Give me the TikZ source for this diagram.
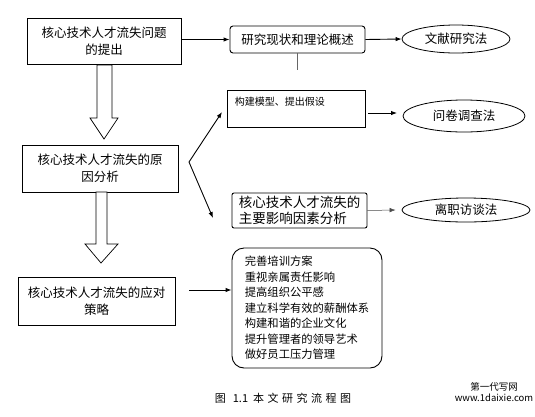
\documentclass[tikz,border=0pt]{standalone}
\usepackage{fontspec}
\setmainfont{Noto Sans CJK SC}
\usetikzlibrary{arrows.meta,shapes.geometric}
\begin{document}
\begin{tikzpicture}[x=1pt,y=-1pt,
  mainbox/.style={draw,line width=0.9pt,inner sep=2pt,align=center,font=\fontsize{12.5}{17}\selectfont},
  rbox/.style={draw,line width=0.9pt,rounded corners=3pt,inner sep=2pt,font=\fontsize{12.5}{14}\selectfont},
  ell/.style={draw,ellipse,line width=0.8pt,inner sep=0pt,font=\fontsize{12.5}{14}\selectfont},
  arr/.style={line width=0.9pt,-{Latex[length=6pt,width=4.5pt]}},
  thinarr/.style={line width=0.5pt,draw=black!70,-{Latex[length=6pt,width=4.5pt]}},
  hollow/.style={draw,line width=0.7pt,fill=white}]
\useasboundingbox (0,0) rectangle (535,416);
% main boxes
\node[mainbox,minimum width=154pt,minimum height=46pt] (b1) at (104,41) {核心技术人才流失问题\\的提出};
\node[mainbox,minimum width=156pt,minimum height=47pt] (b2) at (100,168.5) {核心技术人才流失的原\\因分析};
\node[mainbox,minimum width=157pt,minimum height=48pt] (b3) at (96.5,301) {核心技术人才流失的应对\\策略};
% hollow arrows
\draw[hollow] (97,65) -- (112,65) -- (112,118) -- (118,118) -- (104,139) -- (90,118) -- (97,118) -- cycle;
\draw[hollow] (96,192) -- (107,192) -- (107,244) -- (118,244) -- (101,263) -- (85,244) -- (96,244) -- cycle;
% right boxes
\node[rbox,minimum width=135pt,minimum height=27pt] (r1) at (297.5,39.5) {研究现状和理论概述};
\node[draw,line width=0.9pt,minimum width=138pt,minimum height=37pt,
  label={[anchor=north west,inner sep=0pt,font=\fontsize{10}{12}\selectfont,xshift=8pt,yshift=-7pt]north west:构建模型、提出假设}] (r2) at (296,108.5) {};
\node[draw,line width=0.9pt,rounded corners=2pt,minimum width=135pt,minimum height=35pt,inner sep=1pt,align=left,
  font=\fontsize{13.5}{16}\selectfont] (r3) at (299.5,210.5) {核心技术人才流失的\\主要影响因素分析};
\node[draw,line width=0.9pt,rounded corners=12pt,minimum width=150pt,minimum height=120pt,align=left,
  font=\fontsize{11.3}{15.5}\selectfont,inner sep=0pt] (r4) at (307,308) {完善培训方案\\重视亲属责任影响\\提高组织公平感\\建立科学有效的薪酬体系\\构建和谐的企业文化\\提升管理者的领导艺术\\做好员工压力管理};
% ellipses
\node[ell,minimum width=108pt,minimum height=28pt] (e1) at (456,39) {文献研究法};
\node[ell,minimum width=122pt,minimum height=32pt] (e2) at (464,116) {问卷调查法};
\node[ell,minimum width=128pt,minimum height=24pt] (e3) at (466,210) {离职访谈法};
% connectors
\draw[arr] (b1.east |- r1.west) -- (r1.west);
\draw[arr] (r1.east) -- (e1.west);
\draw[line width=0.4pt,draw=black!60] (r1.south) -- ++(0,17) coordinate (r1t);
\coordinate (v) at (189,162);
\coordinate (up) at (222,112);
\coordinate (dn) at (213,218);
\draw[arr] (v) -- (up);
\draw[arr] (v) -- (dn);
\coordinate (a2s) at (368,113);
\coordinate (a2e) at (397,113);
\draw[arr] (a2s) -- (a2e);
\draw[thinarr] (r3.east) -- ([xshift=-6pt]e3.west);
\coordinate (a4s) at (189,290);
\draw[arr] (a4s) -- (a4s -| r4.west);
% caption
\node[font=\fontsize{11}{13}\selectfont] (cap) at (283,398) {图\hspace{7pt}1.1\hspace{5pt}本\hspace{3.5pt}文\hspace{3.5pt}研\hspace{3.5pt}究\hspace{3.5pt}流\hspace{3.5pt}程\hspace{3.5pt}图};
\node[font=\fontsize{9.5}{11}\selectfont,align=center,inner sep=0pt] (wm) at (494,392) {第一代写网\\www.1daixie.com};
\end{tikzpicture}
\end{document}
